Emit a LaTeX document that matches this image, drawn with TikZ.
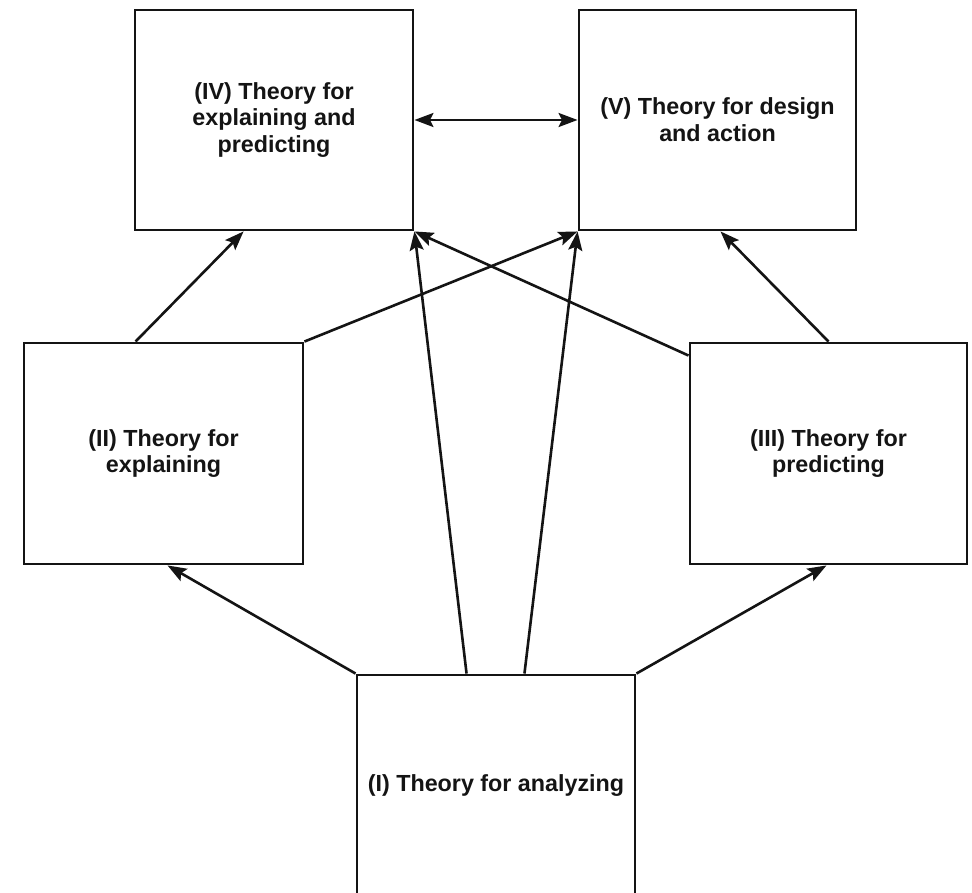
\documentclass[tikz,border=0pt]{standalone}
\usepackage{fontspec}
\setmainfont{Liberation Sans}
\usetikzlibrary{arrows.meta,calc}

\definecolor{ink}{HTML}{141414}

\tikzset{
  theorybox/.style={draw=ink, line width=2.9pt, fill=white, inner sep=0pt,
    align=center, text=ink,
    font=\fontsize{23.3}{26.8}\selectfont\bfseries},
  tip/.style={Stealth[length=19pt,width=14pt,inset=3.5pt]},
  link/.style={draw=ink, line width=2.6pt, -{Stealth[length=19pt,width=14pt,inset=3.5pt]}},
  duallink/.style={draw=ink, line width=2.6pt,
    {Stealth[length=19pt,width=14pt,inset=3.5pt]}-{Stealth[length=19pt,width=14pt,inset=3.5pt]}}
}

\begin{document}
\begin{tikzpicture}[x=1pt,y=-1pt]
  \useasboundingbox (0,0) rectangle (972,893);
  \clip (0,0) rectangle (972,893);
  \fill[white] (0,0) rectangle (972,893);

  % the five kinds of theory
  \node[theorybox, minimum width=278pt, minimum height=220pt] (IV) at (274,120)
    {(IV) Theory for\\explaining and\\predicting};
  \node[theorybox, minimum width=277pt, minimum height=220pt] (V) at (717.5,120)
    {(V) Theory for design\\and action};
  \node[theorybox, minimum width=279pt, minimum height=221pt] (II) at (163.5,453.5)
    {(II) Theory for\\explaining};
  \node[theorybox, minimum width=277pt, minimum height=221pt] (III) at (828.5,453.5)
    {(III) Theory for\\predicting};
  \node[theorybox, minimum width=278pt, minimum height=221pt] (I) at (496,785.5)
    {(I) Theory for analyzing};

  % dependencies between them
  \draw[duallink] (IV.east) -- (V.west);
  \draw[link] ([xshift=113pt]II.north west) -- ([xshift=110pt]IV.south west);
  \draw[link] (II.north east) -- (V.south west);
  \draw[link] ([yshift=-14pt]III.north west) -- (IV.south east);
  \draw[link] (III.north) -- ([xshift=3pt]V.south);
  \draw[link] (I.north west) -- ([xshift=4pt]II.south);
  \draw[link] (I.north east) -- ([xshift=-2pt]III.south);
  \draw[link] ([xshift=111pt]I.north west) -- (IV.south east);
  \draw[link] ([xshift=-112pt]I.north east) -- (V.south west);
\end{tikzpicture}
\end{document}
